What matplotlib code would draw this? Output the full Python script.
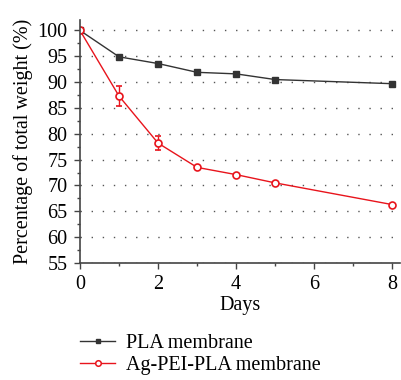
import matplotlib
matplotlib.use("Agg")
import matplotlib.pyplot as plt
from matplotlib.ticker import MultipleLocator
from matplotlib.lines import Line2D

days = [0, 1, 2, 3, 4, 5, 8]
pla = [100, 94.9, 93.6, 91.9, 91.6, 90.5, 89.7]
ag_pei_pla = [100, 87.3, 78.2, 73.5, 72.1, 70.5, 66.3]
ag_err = [0, 1.9, 1.3, 0, 0, 0, 0]

plt.rcParams['font.family'] = ['Liberation Serif', 'DejaVu Serif']
plt.rcParams['font.size'] = 14.5

fig = plt.figure(figsize=(4.02, 3.8), dpi=100)
ax = fig.add_axes([0.199, 0.308, 0.796, 0.639])

ax.plot(days, pla, '-s', color='#333333', lw=1, ms=4.5,
        mfc='#333333', mec='#333333')
ax.errorbar(days, ag_pei_pla, yerr=ag_err, fmt='-o', color='#e8141c', lw=1,
            ms=5, mfc='white', mec='#e8141c', mew=1.2, capsize=2.5,
            elinewidth=1)

ax.set_xlim(0, 8.2)
ax.set_ylim(55, 102)
ax.xaxis.set_major_locator(MultipleLocator(2))
ax.xaxis.set_minor_locator(MultipleLocator(1))
ax.yaxis.set_major_locator(MultipleLocator(5))
ax.yaxis.set_minor_locator(MultipleLocator(2.5))
ax.tick_params(which='major', length=4, width=1, color='#444444', pad=5)
ax.tick_params(which='minor', length=2.5, width=1, color='#444444')
for s in ['top', 'right']:
    ax.spines[s].set_visible(False)
for s in ['left', 'bottom']:
    ax.spines[s].set_color('#444444')
    ax.spines[s].set_linewidth(1.2)
ax.yaxis.grid(True, linestyle=(0, (1, 7)), color='#555555', lw=1)

ax.set_xlabel('Days', labelpad=1)
ax.set_ylabel('Percentage of total weight (%)', labelpad=3)

handles = [
    Line2D([], [], color='#333333', lw=1, marker='s', ms=3.5, mfc='#333333'),
    Line2D([], [], color='#e8141c', lw=1, marker='o', ms=4, mfc='white', mew=1.1),
]
fig.legend(handles, ['PLA membrane', 'Ag-PEI-PLA membrane'],
           loc='center left', bbox_to_anchor=(0.155, 0.067), frameon=False,
           handlelength=1.7, handletextpad=0.55, labelspacing=0.15)

fig.savefig('out.png', dpi=100)
